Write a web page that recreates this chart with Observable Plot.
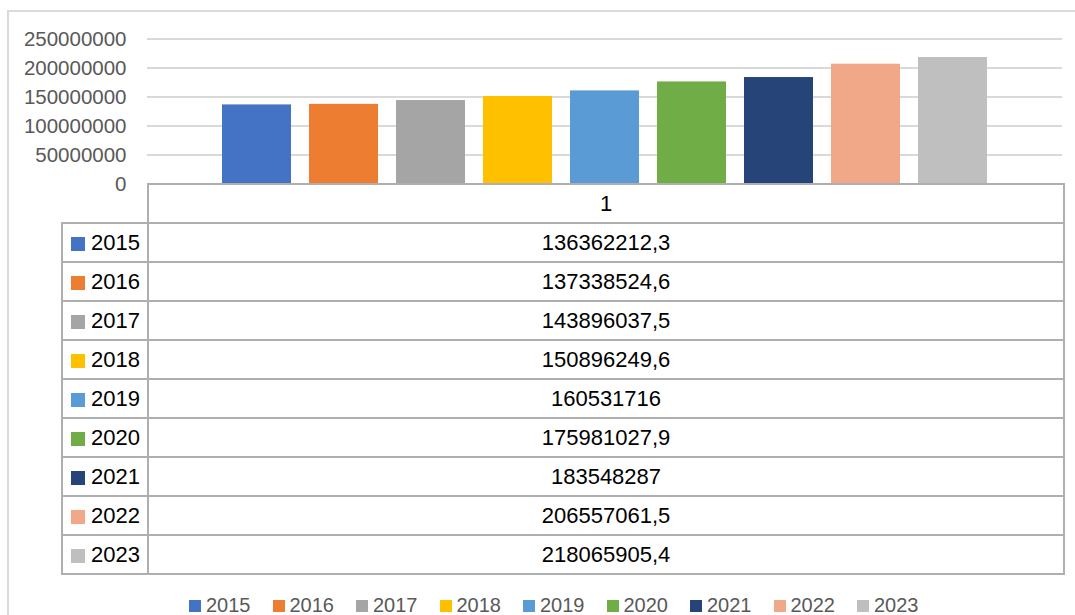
<!DOCTYPE html>
<html>
<head>
<meta charset="utf-8">
<script src="https://cdn.jsdelivr.net/npm/d3@7"></script>
<script src="https://cdn.jsdelivr.net/npm/@observablehq/plot@0.6"></script>
<style>
  html, body { margin: 0; padding: 0; background: #fff; }
  #wrap { position: relative; width: 1075px; height: 615px; overflow: hidden; font-family: "Liberation Sans", Arial, sans-serif; }
  #frame { position: absolute; left: 7px; top: 10px; width: 1080px; height: 620px; border-left: 2px solid #DADADA; border-top: 2px solid #DADADA; box-sizing: border-box; }
  #chart { position: absolute; left: 0; top: 0; }
  table { position: absolute; left: 61px; top: 183px; border-collapse: collapse; table-layout: fixed; width: 1002px; font-size: 22px; color: #000; }
  td { border: 2px solid #AFAFAF; height: 37px; padding: 0; text-align: center; white-space: nowrap; }
  td.lab { text-align: left; padding-left: 8px; }
  td.corner { border-top: none; border-left: none; }
  .sw { display: inline-block; width: 14px; height: 14px; margin-right: 6px; vertical-align: -1px; }
  #legend { position: absolute; left: 189px; top: 594px; display: flex; gap: 22px; font-size: 20px; color: #595959; }
  #legend .it { display: flex; align-items: center; }
  #legend .sw { width: 12px; height: 12px; margin-right: 5px; vertical-align: 0; }
</style>
</head>
<body>
<div id="wrap">
  <div id="frame"></div>
  <div id="chart"></div>
  <table id="tbl"></table>
  <div id="legend"></div>
</div>
<script>
const years = ["2015","2016","2017","2018","2019","2020","2021","2022","2023"];
const values = [136362212.3, 137338524.6, 143896037.5, 150896249.6, 160531716, 175981027.9, 183548287, 206557061.5, 218065905.4];
const colors = ["#4472C4","#ED7D31","#A5A5A5","#FFC000","#5B9BD5","#70AD47","#264478","#F0A889","#BFBFBF"];
const yTicks = [0, 50000000, 100000000, 150000000, 200000000, 250000000];
const categoryLabel = "1";

const data = years.map((y, i) => ({year: y, value: values[i]}));

const plot = Plot.plot({
  width: 1075,
  height: 190,
  marginLeft: 147,
  marginRight: 13,
  marginTop: 38.5,
  marginBottom: 6.5,
  style: {fontFamily: "Liberation Sans, Arial, sans-serif", fontSize: "20.5px", background: "transparent", overflow: "visible"},
  x: {domain: years, paddingInner: 0.207, paddingOuter: 0.856, axis: null},
  y: {domain: [0, 250000000], ticks: yTicks, tickFormat: d => String(d)},
  color: {domain: years, range: colors},
  marks: [
    Plot.ruleY(yTicks.filter(d => d > 0), {stroke: "#D9D9D9", strokeWidth: 2, strokeOpacity: 1}),
    Plot.barY(data, {x: "year", y: "value", fill: "year"}),
    Plot.ruleY([0], {stroke: "#A6A6A6", strokeWidth: 2}),
    Plot.axisY({ticks: yTicks, tickSize: 0, tickPadding: 21, tickFormat: d => String(d), color: "#595959", fontSize: 20.5, label: null})
  ]
});
document.getElementById("chart").appendChild(plot);

// data table
const tbl = document.getElementById("tbl");
let html = '<colgroup><col style="width:86px"><col style="width:916px"></colgroup>';
html += '<tr><td class="corner"></td><td>' + categoryLabel + '</td></tr>';
years.forEach((y, i) => {
  html += '<tr><td class="lab"><span class="sw" style="background:' + colors[i] + '"></span>' + y +
          '</td><td>' + String(values[i]).replace(".", ",") + '</td></tr>';
});
tbl.innerHTML = html;

// legend
const lg = document.getElementById("legend");
lg.innerHTML = years.map((y, i) => '<div class="it"><span class="sw" style="background:' + colors[i] + '"></span>' + y + '</div>').join("");
</script>
</body>
</html>
